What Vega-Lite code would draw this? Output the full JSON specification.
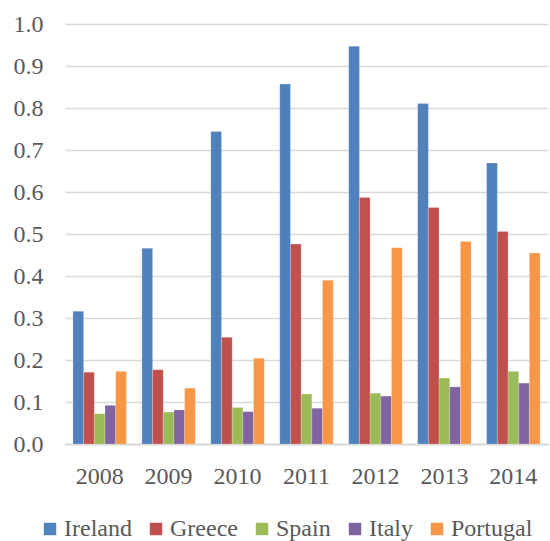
{
  "$schema": "https://vega.github.io/schema/vega-lite/v6.json",
  "autosize": "none",
  "width": 483,
  "height": 420,
  "padding": {"left": 65, "top": 24, "right": 2, "bottom": 97},
  "background": "white",
  "config": {
    "view": {"stroke": null},
    "font": "Liberation Serif",
    "axis": {"labelFont": "Liberation Serif", "labelColor": "#595959", "labelFontSize": 24},
    "legend": {"labelFont": "Liberation Serif", "labelColor": "#595959", "labelFontSize": 24}
  },
  "data": {
    "values": [
      {"year": "2008", "country": "Ireland", "value": 0.316},
      {"year": "2008", "country": "Greece", "value": 0.171},
      {"year": "2008", "country": "Spain", "value": 0.072},
      {"year": "2008", "country": "Italy", "value": 0.092},
      {"year": "2008", "country": "Portugal", "value": 0.173},
      {"year": "2009", "country": "Ireland", "value": 0.466},
      {"year": "2009", "country": "Greece", "value": 0.177},
      {"year": "2009", "country": "Spain", "value": 0.076},
      {"year": "2009", "country": "Italy", "value": 0.081},
      {"year": "2009", "country": "Portugal", "value": 0.133},
      {"year": "2010", "country": "Ireland", "value": 0.744},
      {"year": "2010", "country": "Greece", "value": 0.254},
      {"year": "2010", "country": "Spain", "value": 0.087},
      {"year": "2010", "country": "Italy", "value": 0.077},
      {"year": "2010", "country": "Portugal", "value": 0.204},
      {"year": "2011", "country": "Ireland", "value": 0.857},
      {"year": "2011", "country": "Greece", "value": 0.476},
      {"year": "2011", "country": "Spain", "value": 0.119},
      {"year": "2011", "country": "Italy", "value": 0.085},
      {"year": "2011", "country": "Portugal", "value": 0.390},
      {"year": "2012", "country": "Ireland", "value": 0.947},
      {"year": "2012", "country": "Greece", "value": 0.587},
      {"year": "2012", "country": "Spain", "value": 0.121},
      {"year": "2012", "country": "Italy", "value": 0.114},
      {"year": "2012", "country": "Portugal", "value": 0.467},
      {"year": "2013", "country": "Ireland", "value": 0.811},
      {"year": "2013", "country": "Greece", "value": 0.563},
      {"year": "2013", "country": "Spain", "value": 0.157},
      {"year": "2013", "country": "Italy", "value": 0.136},
      {"year": "2013", "country": "Portugal", "value": 0.482},
      {"year": "2014", "country": "Ireland", "value": 0.669},
      {"year": "2014", "country": "Greece", "value": 0.506},
      {"year": "2014", "country": "Spain", "value": 0.173},
      {"year": "2014", "country": "Italy", "value": 0.145},
      {"year": "2014", "country": "Portugal", "value": 0.455}
    ]
  },
  "mark": {"type": "bar", "stroke": "white", "strokeWidth": 0.5, "strokeOpacity": 0.4},
  "encoding": {
    "x": {
      "field": "year", "type": "nominal",
      "scale": {"paddingInner": 0.225, "paddingOuter": 0.115},
      "axis": {"title": null, "labelAngle": 0, "ticks": false, "domain": true, "domainColor": "#D9D9D9", "domainWidth": 2, "labelPadding": 20}
    },
    "xOffset": {
      "field": "country", "type": "nominal",
      "sort": ["Ireland", "Greece", "Spain", "Italy", "Portugal"],
      "scale": {"paddingInner": 0, "paddingOuter": 0}
    },
    "y": {
      "field": "value", "type": "quantitative",
      "scale": {"domain": [0, 1.0], "nice": false},
      "axis": {"title": null, "values": [0, 0.1, 0.2, 0.3, 0.4, 0.5, 0.6, 0.7, 0.8, 0.9, 1.0], "format": ".1f", "domain": false, "ticks": false, "labelPadding": 22, "grid": true, "gridColor": "#D9D9D9", "gridWidth": 1.5}
    },
    "color": {
      "field": "country", "type": "nominal",
      "sort": ["Ireland", "Greece", "Spain", "Italy", "Portugal"],
      "scale": {"domain": ["Ireland", "Greece", "Spain", "Italy", "Portugal"], "range": ["#4F81BD", "#C0504D", "#9BBB59", "#8064A2", "#F79646"]},
      "legend": {"title": null, "orient": "none", "direction": "horizontal", "legendX": -27, "legendY": 493, "padding": 0, "symbolType": "square", "symbolSize": 155, "symbolStrokeWidth": 0, "symbolOpacity": 1, "columnPadding": 12, "labelOffset": 2}
    }
  }
}
